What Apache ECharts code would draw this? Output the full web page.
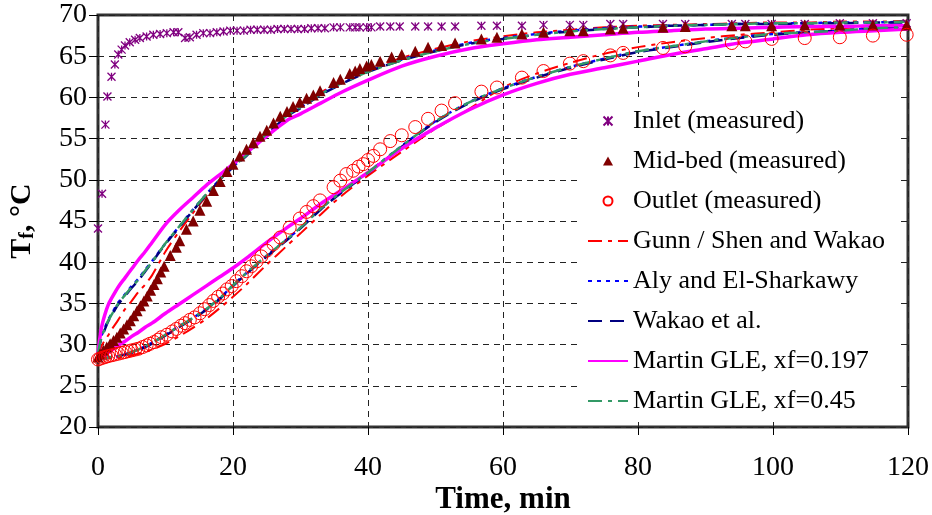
<!DOCTYPE html>
<html>
<head>
<meta charset="utf-8">
<script src="https://cdn.jsdelivr.net/npm/echarts@6/dist/echarts.min.js"></script>
<style>
html,body{margin:0;padding:0;background:#fff;}
#chart{width:932px;height:515px;}
</style>
</head>
<body>
<div id="chart"></div>
<script>
// ---------- data ----------
const seriesNames = ['Inlet (measured)','Mid-bed (measured)','Outlet (measured)','Gunn / Shen and Wakao','Aly and El-Sharkawy','Wakao et al.','Martin GLE, xf=0.197','Martin GLE, xf=0.45'];
const xTicks = [0,20,40,60,80,100,120];
const yTicks = [20,25,30,35,40,45,50,55,60,65,70];

// measured: [time (min), temperature (°C)]
const inletMeasured = [[0,44.1],[0.6,48.3],[1.1,56.7],[1.4,60.1],[2.0,62.5],[2.5,64.0],[3.0,65.2],[3.5,65.8],[4.0,66.3],[4.7,66.7],[5.5,67.0],[6.2,67.2],[7.2,67.4],[8.2,67.6],[9.2,67.7],[10.2,67.8],[11.2,67.9],[11.9,67.9],[12.9,67.2],[13.6,67.3],[14.6,67.6],[15.6,67.8],[16.6,67.8],[17.6,67.9],[18.6,68.0],[19.6,68.1],[20.6,68.1],[21.6,68.1],[22.6,68.2],[23.6,68.2],[24.6,68.2],[25.6,68.2],[26.6,68.3],[27.6,68.3],[28.6,68.3],[29.6,68.3],[30.6,68.3],[31.6,68.4],[32.6,68.4],[33.6,68.4],[34.9,68.5],[35.9,68.5],[37.3,68.5],[38.1,68.5],[38.8,68.5],[39.8,68.5],[40.5,68.5],[41.8,68.6],[43.3,68.6],[44.7,68.6],[47.0,68.6],[48.9,68.6],[50.9,68.6],[52.9,68.6],[56.8,68.7],[59.1,68.7],[62.8,68.7],[66.0,68.8],[69.9,68.8],[71.9,68.8],[75.9,68.9],[77.8,68.9],[83.7,68.9],[87.0,68.9],[93.9,68.9],[95.9,68.9],[99.8,68.9],[104.7,68.9],[109.9,69.0],[114.8,69.0],[119.8,69.0]];
const midbedMeasured = [[0,28.5],[0.3,28.9],[0.8,29.3],[1.3,29.7],[1.8,30.1],[2.3,30.5],[2.8,30.9],[3.3,31.4],[3.8,31.9],[4.3,32.4],[4.8,32.9],[5.3,33.5],[5.8,34.1],[6.3,34.7],[6.8,35.3],[7.3,35.9],[7.8,36.6],[8.3,37.3],[8.8,38.0],[9.3,38.8],[9.8,39.5],[10.7,40.8],[11.6,41.8],[12.1,42.6],[13.1,44.0],[14.1,45.0],[15.1,46.3],[16.1,47.4],[17.1,48.7],[18.1,49.8],[19.1,51.0],[20.0,51.9],[21.0,52.9],[22.0,53.7],[23.0,54.5],[24.0,55.3],[25.0,56.0],[26.0,56.9],[27.0,57.7],[28.0,58.3],[28.9,58.9],[29.9,59.4],[30.9,59.9],[31.9,60.3],[32.9,60.8],[34.9,61.8],[35.9,62.2],[37.3,62.9],[38.1,63.2],[38.8,63.5],[39.8,63.8],[40.5,64.0],[41.8,64.4],[43.5,64.9],[45.0,65.2],[47.0,65.6],[48.9,66.1],[50.9,66.3],[52.9,66.6],[56.8,67.1],[59.1,67.3],[62.8,67.7],[66.0,67.9],[69.9,68.1],[71.9,68.1],[75.9,68.3],[77.8,68.4],[83.7,68.5],[87.0,68.6],[93.9,68.7],[95.9,68.7],[99.8,68.7],[104.7,68.8],[109.9,68.8],[114.8,68.8],[119.8,68.8]];
const outletMeasured = [[0,28.2],[0.3,28.3],[0.7,28.4],[1.1,28.5],[1.5,28.6],[2.0,28.7],[2.5,28.8],[3.0,28.9],[3.5,29.0],[4.0,29.1],[4.5,29.2],[5.0,29.3],[5.5,29.4],[6.0,29.5],[6.6,29.7],[7.2,29.9],[7.7,30.1],[8.3,30.3],[8.9,30.6],[9.4,30.9],[10.2,31.2],[11.0,31.6],[11.6,31.9],[12.3,32.3],[12.9,32.6],[13.6,33.0],[14.3,33.3],[15.1,33.8],[15.8,34.3],[16.5,34.8],[17.1,35.3],[17.8,35.8],[18.5,36.2],[19.1,36.7],[19.8,37.1],[20.5,37.7],[21.3,38.3],[22.0,38.9],[22.7,39.5],[23.5,40.1],[24.2,40.7],[25.0,41.4],[26.0,42.2],[27.0,43.0],[28.4,44.2],[29.9,45.3],[30.9,46.1],[31.9,46.8],[32.9,47.5],[34.9,49.1],[35.9,49.9],[36.8,50.7],[37.8,51.1],[38.6,51.6],[39.3,51.9],[40.0,52.4],[40.8,52.9],[41.8,53.7],[43.3,54.7],[45.0,55.4],[47.0,56.4],[48.9,57.4],[50.9,58.4],[52.9,59.3],[56.8,60.7],[59.1,61.2],[62.8,62.4],[66.0,63.2],[69.9,64.1],[71.9,64.4],[75.9,65.1],[77.8,65.4],[83.7,66.0],[87.0,66.2],[93.9,66.6],[95.9,66.8],[99.8,67.1],[104.7,67.2],[109.9,67.3],[114.8,67.5],[119.8,67.6]];

// model curves on a common time grid (min)
const modelTime = [0,0.5,1,1.5,2,3,4,5,6,7,8,10,12,14,16,18,20,22,25,28,30,33,36,40,45,50,55,60,65,70,75,80,85,90,95,100,105,110,115,120];
// mid-bed predictions
const gunnMid    = [28.8,29.8,30.5,31.1,31.8,33.0,34.3,35.3,36.4,37.3,38.4,41.3,43.7,45.9,48.0,49.9,51.6,53.2,55.7,57.9,59.0,60.6,61.9,63.4,64.8,65.9,66.8,67.4,67.9,68.2,68.5,68.7,68.8,68.9,69.0,69.1,69.1,69.2,69.2,69.3];
const alyMid     = [29.0,31.0,32.0,33.0,33.7,35.1,36.1,37.1,38.0,39.1,40.1,42.3,44.3,46.3,48.2,50.0,51.6,53.0,55.6,57.8,58.8,60.4,61.7,63.2,64.6,65.7,66.6,67.2,67.7,68.1,68.4,68.6,68.7,68.8,68.9,69.0,69.0,69.1,69.1,69.2];
const wakaoMid   = [29.0,30.8,31.8,32.8,33.5,34.9,35.9,36.9,37.8,38.9,40.0,42.2,44.2,46.2,48.1,49.9,51.5,52.9,55.5,57.7,58.7,60.3,61.6,63.1,64.5,65.6,66.5,67.1,67.6,68.0,68.3,68.5,68.7,68.8,68.9,68.9,69.0,69.0,69.1,69.1];
const martin197Mid = [29.0,32.0,33.6,34.8,35.6,37.0,38.1,39.2,40.3,41.3,42.4,44.6,46.3,47.8,49.3,50.6,51.9,53.3,55.3,57.2,58.0,59.3,60.6,62.1,63.8,65.0,65.9,66.5,67.0,67.3,67.6,67.9,68.1,68.3,68.4,68.5,68.6,68.6,68.7,68.7];
const martin45Mid  = [29.0,30.9,31.9,32.9,33.6,35.0,36.0,37.0,37.9,39.0,40.0,42.3,44.3,46.3,48.2,50.0,51.6,53.0,55.6,57.8,58.8,60.4,61.7,63.1,64.5,65.6,66.5,67.1,67.6,68.0,68.3,68.5,68.7,68.8,68.9,69.0,69.0,69.1,69.1,69.2];
// outlet predictions
const gunnOut    = [28.3,28.3,28.3,28.35,28.35,28.4,28.5,28.7,28.9,29.1,29.4,30.1,31.0,32.0,33.1,34.4,35.8,37.3,39.7,42.0,43.5,45.8,48.0,50.5,53.4,56.2,58.6,61.2,62.9,64.2,65.3,66.1,66.7,67.2,67.6,67.9,68.2,68.4,68.6,68.7];
const alyOut     = [28.3,28.3,28.35,28.4,28.5,28.6,28.8,29.1,29.4,29.8,30.2,31.2,32.2,33.2,34.3,35.6,37.2,38.7,40.8,42.8,44.2,46.5,48.5,50.9,54.1,57.1,59.4,61.1,62.5,63.7,64.7,65.6,66.2,66.8,67.3,67.7,67.9,68.1,68.4,68.5];
const wakaoOut   = [28.3,28.3,28.35,28.4,28.5,28.6,28.8,29.0,29.3,29.7,30.1,31.1,32.1,33.1,34.2,35.5,37.1,38.6,40.7,42.7,44.1,46.4,48.4,50.8,54.0,57.0,59.3,61.0,62.4,63.6,64.6,65.5,66.1,66.7,67.2,67.6,67.9,68.1,68.3,68.5];
const martin197Out = [28.3,28.5,28.7,29.0,29.3,29.9,30.4,31.0,31.5,32.1,32.6,33.8,34.9,36.0,37.1,38.2,39.3,40.5,42.4,44.2,45.3,47.1,48.7,50.9,53.8,56.3,58.5,60.3,61.7,62.8,63.6,64.4,65.2,65.9,66.6,67.1,67.6,67.9,68.1,68.3];
const martin45Out  = [28.3,28.3,28.35,28.4,28.5,28.6,28.8,29.1,29.4,29.8,30.2,31.2,32.2,33.2,34.3,35.6,37.2,38.7,40.8,42.8,44.2,46.5,48.5,50.9,54.1,57.1,59.4,61.1,62.5,63.7,64.7,65.6,66.2,66.8,67.3,67.7,67.9,68.1,68.4,68.5];

// ---------- chart ----------
const FONT = 'Liberation Serif';
const pair = (ys) => modelTime.map((t, i) => [t, ys[i]]);

const lineStyles = {
  'Gunn / Shen and Wakao': {color:'#ff0000', width:2, type:[14,6,4,6]},
  'Aly and El-Sharkawy':   {color:'#0000ff', width:2.5, type:[4,5]},
  'Wakao et al.':          {color:'#000080', width:2.5, type:[14,8]},
  'Martin GLE, xf=0.197':  {color:'#ff00ff', width:3.5, type:'solid'},
  'Martin GLE, xf=0.45':   {color:'#339966', width:2.5, type:[14,6,4,6]}
};
const modelData = [
  ['Gunn / Shen and Wakao', gunnMid, gunnOut],
  ['Aly and El-Sharkawy', alyMid, alyOut],
  ['Wakao et al.', wakaoMid, wakaoOut],
  ['Martin GLE, xf=0.197', martin197Mid, martin197Out],
  ['Martin GLE, xf=0.45', martin45Mid, martin45Out]
];

const series = [];
modelData.forEach(([name, mid, out]) => {
  [mid, out].forEach(ys => {
    series.push({
      name, type:'line', data: pair(ys), showSymbol:false, symbol:'none', smooth:0.3,
      lineStyle: lineStyles[name], itemStyle:{color: lineStyles[name].color},
      z: 3, animation:false
    });
  });
});
series.push({
  name: seriesNames[0], type:'scatter', data: inletMeasured,
  symbol: 'path://M0,0L10,10M10,0L0,10M5,0L5,10', symbolSize: 8,
  itemStyle:{color:'rgba(0,0,0,0)', borderColor:'#800080', borderWidth:1.3, opacity:1}, z:4, animation:false
});
series.push({
  name: seriesNames[1], type:'scatter', data: midbedMeasured,
  symbol:'triangle', symbolSize: 11,
  itemStyle:{color:'#800000', opacity:1}, z:4, animation:false
});
series.push({
  name: seriesNames[2], type:'scatter', data: outletMeasured,
  symbol:'circle', symbolSize: 13,
  itemStyle:{color:'rgba(0,0,0,0)', borderColor:'#ff0000', borderWidth:1, opacity:1}, z:4, animation:false
});

const hiddenSym = {color:'rgba(0,0,0,0)', borderColor:'rgba(0,0,0,0)', borderWidth:0};
const legendData = seriesNames.map((n, i) => {
  if (i === 1) return {name:n, icon:'path://M5,0L10,9L0,9Z'};
  return i < 3 ? {name:n} : {name:n, itemStyle:hiddenSym};
});

const chart = echarts.init(document.getElementById('chart'), null, {renderer:'canvas'});
chart.setOption({
  backgroundColor:'#fff',
  animation:false,
  textStyle:{fontFamily:FONT},
  grid:{left:98, right:24, top:15, bottom:88, show:true, borderColor:'#333', borderWidth:3,
        backgroundColor:'transparent', containLabel:false, outerBoundsMode:'none'},
  xAxis:{
    type:'value', min:xTicks[0], max:xTicks[xTicks.length-1], interval:20,
    axisLine:{show:false},
    axisTick:{show:true, inside:false, length:8, lineStyle:{color:'#000', width:1}},
    axisLabel:{fontFamily:FONT, fontSize:28, color:'#000', margin:27},
    splitLine:{show:true, lineStyle:{color:'#222', width:1, type:[6,5]}}
  },
  yAxis:{
    type:'value', min:yTicks[0], max:yTicks[yTicks.length-1], interval:5,
    axisLine:{show:false},
    axisTick:{show:true, inside:false, length:9, lineStyle:{color:'#000', width:1}},
    axisLabel:{fontFamily:FONT, fontSize:28, color:'#000', margin:11},
    splitLine:{show:true, lineStyle:{color:'#222', width:1, type:[6,5]}},
    name:'{t|T}{s|f}{t|, °C}', nameLocation:'middle', nameRotate:90, nameGap:60,
    nameTextStyle:{rich:{
      t:{fontFamily:FONT, fontSize:30, fontWeight:'bold', color:'#000'},
      s:{fontFamily:FONT, fontSize:20, fontWeight:'bold', color:'#000', padding:[12,0,0,0]}
    }}
  },
  legend:{
    orient:'vertical', left:580, top:97,
    data: legendData,
    itemWidth:40, itemHeight:9, itemGap:14,
    symbolKeepAspect:true,
    padding:[11,14,6,7],
    backgroundColor:'#fff',
    textStyle:{fontFamily:FONT, fontSize:26, color:'#000'},
    selectedMode:false
  },
  graphic:[{
    type:'text', x:503, y:484,
    style:{text:'Time, min', font:'bold 31px "Liberation Serif"', fill:'#000', textAlign:'center', textVerticalAlign:'top'}
  }],
  series
});
</script>
</body>
</html>
